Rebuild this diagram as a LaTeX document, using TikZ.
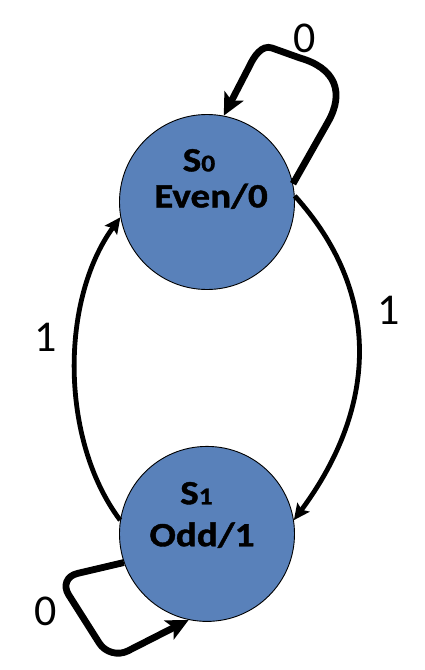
\documentclass[tikz,border=0pt]{standalone}
\usepackage{fontspec}
\setmainfont{Carlito}
\newfontfamily\statefont[FakeStretch=1.15, FakeBold=1.2]{Carlito}
\usepackage{tikz}
\usetikzlibrary{positioning,arrows.meta}
\definecolor{stateblue}{RGB}{89,129,186}
\newcommand{\stsub}[1]{{\fontsize{24}{24}\selectfont #1}}

\begin{document}
\begin{tikzpicture}[x=1pt, y=-1pt,
    state/.style={circle, draw=black, line width=0.9pt, fill=stateblue, minimum size=175pt, inner sep=0pt},
    statetext/.style={font=\statefont\bfseries\fontsize{34}{36}\selectfont, align=center, inner sep=0pt},
    trans/.style={line width=4.8pt, -{Stealth[length=16pt, width=15pt, inset=3pt]}},
    selfloop/.style={line width=6.8pt, -{Stealth[length=22pt, width=21pt, inset=5pt]}},
    inlabel/.style={font=\fontsize{44}{44}\selectfont, inner sep=0pt}]
    \useasboundingbox (0,0) rectangle (424,670);
	\node[state] (s0) at (207,202) {};
	\node[state, below=156pt of s0] (s1) {};
	\node[statetext] (s0-txt) at ([xshift=4pt, yshift=23pt]s0.center) {S\stsub{0}\kern24pt\\Even/0};
	\node[statetext, font=\statefont\bfseries\fontsize{34}{42}\selectfont] (s1-txt) at ([xshift=-5pt, yshift=19pt]s1.center) {S\stsub{1}\kern11pt\\Odd/1};
    \draw[trans] (s1.171) .. controls (60,440) and (60,300) .. (s0.190);
    \draw[trans] (s0.4) .. controls (380,290) and (380,404) .. (s1.9);
    \draw[selfloop] (s0.12) -- (328,122) .. controls (345,92) and (335,68) .. (300,58) -- (272,48) .. controls (262,44.5) and (254,56) .. (249,67) -- (s0.79);
    \draw[selfloop, rounded corners=20pt] (s1.199) -- (58,578) -- (110,660) -- (s1.258);
    \node[inlabel] (s1s0-l) at (46,337.5) {1};
    \node[inlabel] (s0s1-l) at (389,310.5) {1};
    \node[inlabel] (s0s0-l) at (305,38.5) {0};
    \node[inlabel] (s1s1-l) at (46,611) {0};
\end{tikzpicture}
\end{document}
